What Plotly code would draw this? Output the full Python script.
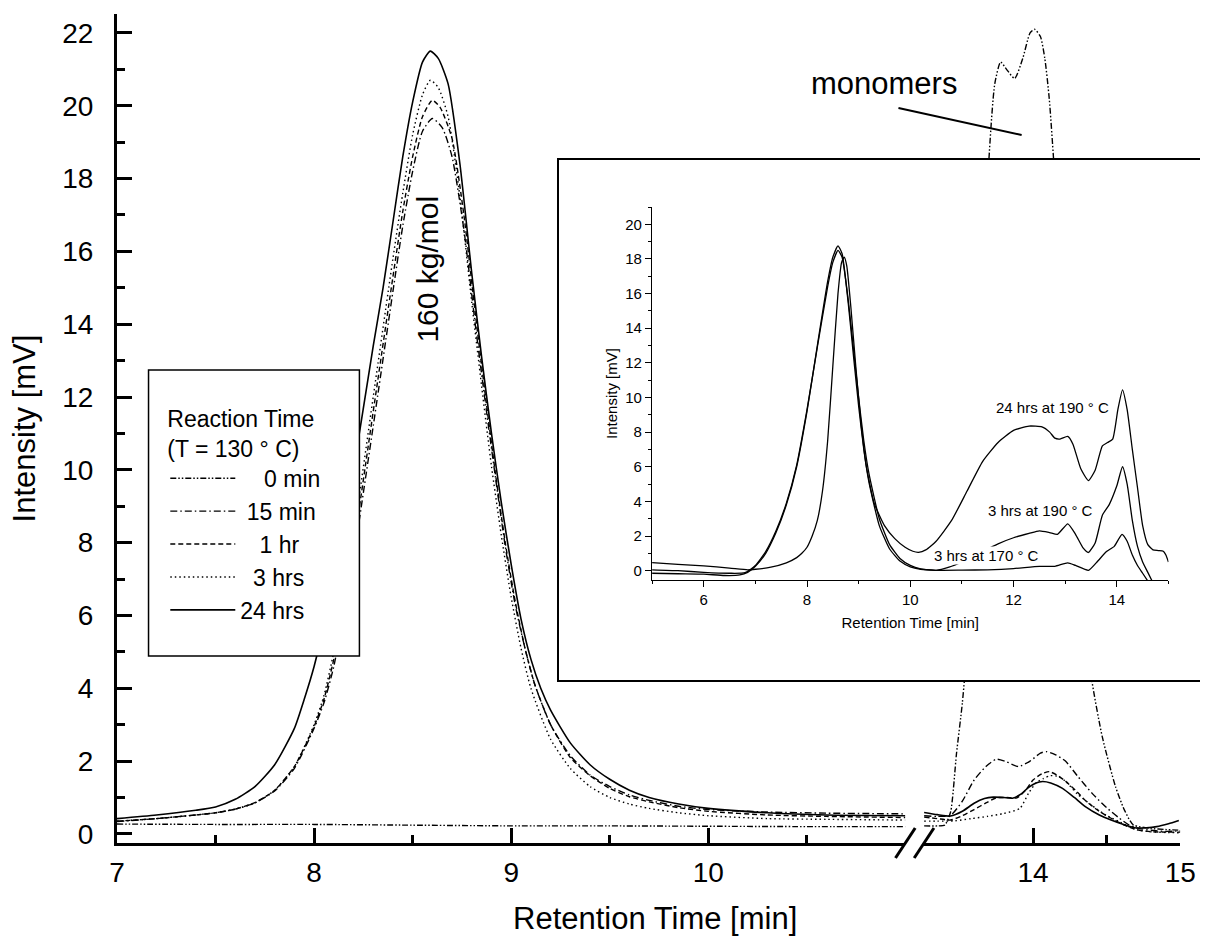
import plotly.graph_objects as go

# ---------------- main chromatograms (reaction at 130 °C) ----------------
# left part of the broken time axis (7 - 11 min), right part (13.26 - 15 min)

# 0 min
t_0min_a = [7.0, 7.5, 8.0, 8.5, 9.0, 9.5, 10.0, 10.5, 11.0]
i_0min_a = [0.27, 0.26, 0.26, 0.24, 0.22, 0.22, 0.21, 0.2, 0.2]
t_0min_b = [13.26, 13.35, 13.40, 13.44, 13.48, 13.52, 13.56, 13.62, 13.67, 13.70, 13.74,
            13.78, 13.82, 13.875, 13.93, 13.98, 14.01, 14.05, 14.08, 14.11, 14.14, 14.2,
            14.28, 14.35, 14.4, 14.47, 14.56, 14.62, 14.68, 14.8, 14.9, 15.0]
i_0min_b = [0.22, 0.22, 0.24, 0.6, 2.2, 3.6, 5.5, 10.0, 15.5, 18.5, 20.6,
            21.2, 21.0, 20.75, 21.3, 22.0, 22.1, 21.9, 21.3, 20.2, 18.5, 14.5,
            9.5, 6.0, 4.2, 2.67, 1.3, 0.66, 0.25, 0.15, 0.12, 0.1]

# 15 min
t_15min_a = [7.0, 7.2, 7.4, 7.5, 7.6, 7.7, 7.8, 7.9, 8.0, 8.05, 8.1, 8.2, 8.3, 8.4, 8.45, 8.5,
             8.55, 8.6, 8.65, 8.7, 8.76, 8.82, 8.87, 8.92, 8.97, 9.02, 9.07, 9.12, 9.2, 9.3,
             9.4, 9.5, 9.6, 9.7, 9.85, 10.0, 10.3, 10.6, 11.0]
i_15min_a = [0.34, 0.42, 0.52, 0.58, 0.68, 0.85, 1.18, 1.8, 2.9, 3.6, 4.6, 7.6, 11.2, 14.9, 16.7, 18.2,
             19.3, 19.65, 19.4, 18.6, 16.6, 13.9, 11.8, 9.8, 7.9, 6.3, 5.1, 4.1, 3.0, 2.15,
             1.62, 1.3, 1.07, 0.92, 0.76, 0.67, 0.6, 0.57, 0.55]
t_15min_b = [13.26, 13.35, 13.44, 13.52, 13.6, 13.68, 13.75, 13.82, 13.9, 13.98, 14.05, 14.09,
             14.15, 14.22, 14.3, 14.4, 14.5, 14.58, 14.65, 14.71, 14.8, 14.9, 15.0]
i_15min_b = [0.5, 0.48, 0.51, 0.9, 1.48, 1.85, 2.05, 1.98, 1.85, 2.0, 2.22, 2.26,
             2.18, 2.0, 1.6, 1.12, 0.72, 0.45, 0.25, 0.16, 0.1, 0.07, 0.08]

# 1 hr
t_1hr_a = [7.0, 7.2, 7.4, 7.5, 7.6, 7.7, 7.8, 7.9, 8.0, 8.05, 8.1, 8.2, 8.3, 8.4, 8.45, 8.5,
           8.55, 8.6, 8.64, 8.7, 8.76, 8.82, 8.87, 8.92, 8.97, 9.02, 9.07, 9.12, 9.2, 9.3,
           9.4, 9.5, 9.6, 9.7, 9.85, 10.0, 10.3, 10.6, 11.0]
i_1hr_a = [0.35, 0.42, 0.52, 0.58, 0.68, 0.86, 1.2, 1.85, 2.95, 3.7, 4.8, 7.9, 11.6, 15.3, 17.1, 18.6,
           19.7, 20.15, 19.95, 19.1, 17.0, 14.2, 12.0, 9.9, 8.0, 6.4, 5.1, 4.1, 3.0, 2.1,
           1.6, 1.25, 1.02, 0.88, 0.72, 0.62, 0.52, 0.48, 0.45]
t_1hr_b = [13.26, 13.35, 13.44, 13.52, 13.6, 13.68, 13.75, 13.82, 13.89, 13.95, 14.0, 14.06,
           14.11, 14.16, 14.22, 14.3, 14.36, 14.45, 14.53, 14.62, 14.71, 14.8, 14.9, 15.0]
i_1hr_b = [0.46, 0.42, 0.38, 0.5, 0.67, 0.85, 0.99, 1.0, 0.99, 1.2, 1.48, 1.65,
           1.71, 1.62, 1.45, 1.15, 0.9, 0.62, 0.43, 0.24, 0.11, 0.06, 0.05, 0.05]

# 3 hrs
t_3hrs_a = [7.0, 7.2, 7.4, 7.5, 7.6, 7.7, 7.8, 7.9, 8.0, 8.05, 8.1, 8.2, 8.3, 8.4, 8.45, 8.5,
            8.55, 8.59, 8.63, 8.68, 8.74, 8.8, 8.85, 8.9, 8.95, 9.0, 9.05, 9.1, 9.2, 9.3,
            9.4, 9.5, 9.6, 9.7, 9.85, 10.0, 10.3, 10.6, 11.0]
i_3hrs_a = [0.35, 0.42, 0.52, 0.58, 0.68, 0.85, 1.2, 1.85, 3.0, 3.8, 5.0, 8.2, 12.0, 15.8, 17.6, 19.2,
            20.3, 20.7, 20.5, 19.7, 17.5, 14.6, 12.3, 10.1, 8.2, 6.5, 5.1, 4.0, 2.6, 1.8,
            1.3, 1.0, 0.82, 0.7, 0.58, 0.5, 0.42, 0.4, 0.38]
t_3hrs_b = [13.26, 13.35, 13.47, 13.58, 13.69, 13.8, 13.91, 13.97, 14.02, 14.07, 14.12, 14.17,
            14.22, 14.3, 14.4, 14.5, 14.58, 14.65, 14.71, 14.8, 14.9, 15.0]
i_3hrs_b = [0.35, 0.35, 0.36, 0.42, 0.48, 0.56, 0.7, 1.12, 1.4, 1.52, 1.6, 1.58,
            1.45, 1.1, 0.78, 0.5, 0.35, 0.2, 0.11, 0.06, 0.04, 0.03]

# 24 hrs
t_24hrs_a = [7.0, 7.2, 7.4, 7.5, 7.6, 7.7, 7.8, 7.9, 7.95, 8.0, 8.1, 8.2, 8.3, 8.35, 8.4, 8.45,
             8.5, 8.55, 8.59, 8.63, 8.68, 8.74, 8.8, 8.85, 8.9, 8.95, 9.0, 9.05, 9.1, 9.15,
             9.2, 9.3, 9.4, 9.5, 9.6, 9.7, 9.85, 10.0, 10.3, 10.6, 11.0]
i_24hrs_a = [0.42, 0.52, 0.65, 0.74, 0.95, 1.3, 1.9, 2.9, 3.7, 4.6, 6.9, 10.0, 13.4, 15.0, 16.8, 18.6,
             20.1, 21.2, 21.5, 21.3, 20.6, 18.4, 15.4, 13.1, 11.0, 9.1, 7.4, 5.9, 4.8, 4.0,
             3.4, 2.5, 1.9, 1.5, 1.2, 1.0, 0.82, 0.7, 0.58, 0.52, 0.5]
t_24hrs_b = [13.26, 13.35, 13.44, 13.52, 13.6, 13.67, 13.73, 13.8, 13.86, 13.92, 13.97, 14.02,
             14.065, 14.12, 14.2, 14.28, 14.355, 14.45, 14.53, 14.62, 14.69, 14.77, 14.84,
             14.92, 14.99]
i_24hrs_b = [0.59, 0.53, 0.49, 0.62, 0.84, 0.97, 1.01, 1.0, 0.98, 1.1, 1.28, 1.4,
             1.44, 1.4, 1.25, 1.0, 0.75, 0.52, 0.38, 0.25, 0.17, 0.17, 0.2,
             0.28, 0.37]

NB = "\u00a0"
series_names = [NB * 3 + "\u2009" + "0 min", NB + "15 min", NB * 3 + "1 hr",
                NB * 2 + "3 hrs", "24 hrs"]
series_dash = ["6px,2px,1.5px,2px,1.5px,2px", "7px,3px,1.5px,3px", "5px,3px",
               "1.5px,3px", "solid"]

# ---------------- inset: degradation at higher temperature ----------------
t_24h190 = [5.0, 5.5, 6.0, 6.5, 6.85, 7.0, 7.3, 7.6, 7.8, 7.9, 8.0, 8.1, 8.2, 8.3, 8.4, 8.5,
            8.6, 8.67, 8.72, 8.77, 8.85, 8.95, 9.05, 9.15, 9.3, 9.5, 9.7, 9.9, 10.05, 10.16,
            10.3, 10.5, 10.8, 11.1, 11.4, 11.7, 12.0, 12.3, 12.55, 12.7, 12.8, 12.9, 13.05,
            13.15, 13.3, 13.45, 13.58, 13.72, 13.82, 13.92, 14.02, 14.11, 14.2, 14.3, 14.4,
            14.5, 14.6, 14.7, 14.8, 14.9, 14.95, 15.0]
i_24h190 = [0.46, 0.36, 0.27, 0.15, 0.05, 0.08, 0.2, 0.45, 0.75, 1.0, 1.35, 2.0, 2.9, 4.6, 7.5, 11.8,
            16.0, 17.8, 18.1, 17.6, 15.2, 11.6, 8.4, 6.0, 3.9, 2.6, 1.85, 1.35, 1.12, 1.06,
            1.2, 1.7, 2.9, 4.6, 6.3, 7.4, 8.1, 8.35, 8.3, 8.0, 7.65, 7.6, 7.75,
            7.3, 5.9, 5.2, 5.8, 7.2, 7.4, 7.6, 9.3, 10.44, 9.3, 7.0, 4.8,
            2.6, 1.5, 1.2, 1.16, 1.12, 0.9, 0.5]

t_3h190 = [5.0, 5.5, 6.0, 6.5, 6.8, 7.0, 7.2, 7.4, 7.6, 7.8, 8.0, 8.2, 8.4, 8.5, 8.6, 8.68,
           8.8, 8.9, 9.0, 9.1, 9.2, 9.4, 9.6, 9.8, 10.0, 10.2, 10.5, 10.75, 11.0, 11.3, 11.7,
           12.0, 12.3, 12.5, 12.7, 12.85, 13.05, 13.2, 13.35, 13.45, 13.58, 13.72, 13.85,
           14.0, 14.11, 14.2, 14.3, 14.4, 14.5, 14.6, 14.7]
i_3h190 = [0.05, 0.0, -0.1, -0.15, -0.12, 0.3, 1.1, 2.3, 3.9, 6.1, 9.3, 12.9, 16.4, 17.8, 18.5, 18.1,
           15.6, 12.8, 10.0, 7.5, 5.6, 3.0, 1.5, 0.7, 0.3, 0.1, 0.02, 0.2, 0.5, 0.95, 1.55,
           1.9, 2.15, 2.3, 2.2, 2.1, 2.7, 2.1, 1.3, 1.05, 1.6, 3.2, 3.8,
           4.9, 6.0, 5.0, 2.9, 1.4, 0.5, -0.1, -0.7]

t_3h170 = [5.0, 5.5, 6.0, 6.4, 6.7, 6.85, 7.0, 7.2, 7.4, 7.6, 7.8, 8.0, 8.2, 8.4, 8.5, 8.6,
           8.68, 8.8, 8.9, 9.0, 9.1, 9.2, 9.4, 9.6, 9.8, 10.0, 10.2, 10.5, 11.0, 11.5, 12.0,
           12.5, 12.8, 13.05, 13.2, 13.45, 13.6, 13.8, 13.95, 14.1, 14.2, 14.3, 14.4, 14.5, 14.6]
i_3h170 = [-0.15, -0.18, -0.2, -0.28, -0.25, -0.1, 0.25, 1.0, 2.2, 3.8, 6.0, 9.2, 13.0, 16.7, 18.1, 18.76,
           18.3, 15.4, 12.4, 9.5, 7.0, 5.1, 2.6, 1.25, 0.55, 0.22, 0.08, 0.02, 0.03, 0.05, 0.12,
           0.25, 0.25, 0.45, 0.3, 0.02, 0.45, 1.1, 1.4, 2.1, 1.7, 0.9, 0.3, -0.15, -0.6]

# ---------------- page geometry (pixels) ----------------
W, H = 1216, 944
ML, MR, MT, MB = 117, 0, 14, 101
PW, PH = W - ML - MR, H - MT - MB


def fx(px):
    return (px - ML) / PW


def fy(py):
    return (H - MB - py) / PH


FONT = "Liberation Sans, Arial, sans-serif"
BLACK = "black"

fig = go.Figure()

main_sets = [
    (t_0min_a, i_0min_a, t_0min_b, i_0min_b),
    (t_15min_a, i_15min_a, t_15min_b, i_15min_b),
    (t_1hr_a, i_1hr_a, t_1hr_b, i_1hr_b),
    (t_3hrs_a, i_3hrs_a, t_3hrs_b, i_3hrs_b),
    (t_24hrs_a, i_24hrs_a, t_24hrs_b, i_24hrs_b),
]
for k, (ta, ia, tb, ib) in enumerate(main_sets):
    width = 1.6 if series_dash[k] == "solid" else 1.4
    line = dict(color=BLACK, width=width, dash=series_dash[k], shape="spline", smoothing=0.6)
    fig.add_trace(go.Scatter(x=ta, y=ia, mode="lines", line=line, name=series_names[k],
                             legendgroup=str(k), xaxis="x", yaxis="y"))
    fig.add_trace(go.Scatter(x=tb, y=ib, mode="lines", line=line, name=series_names[k],
                             legendgroup=str(k), showlegend=False, xaxis="x2", yaxis="y"))

# white framed panel carrying the inset
fig.add_trace(go.Scatter(x=[], y=[], xaxis="x3", yaxis="y3", showlegend=False))

inset_line = dict(color=BLACK, width=1.3, shape="spline", smoothing=0.5)
for tx, iy in [(t_24h190, i_24h190), (t_3h190, i_3h190), (t_3h170, i_3h170)]:
    fig.add_trace(go.Scatter(x=tx, y=iy, mode="lines", line=inset_line, showlegend=False,
                             xaxis="x4", yaxis="y4"))

main_tick = dict(ticks="inside", ticklen=15, tickwidth=3, tickcolor=BLACK,
                 showline=True, linewidth=3, linecolor=BLACK, showgrid=False, zeroline=False,
                 tickfont=dict(family=FONT, size=28, color=BLACK))
inset_font = dict(family=FONT, size=15, color=BLACK)

fig.update_layout(
    width=W, height=H,
    margin=dict(l=ML, r=MR, t=MT, b=MB),
    paper_bgcolor="white", plot_bgcolor="white",
    font=dict(family=FONT, color=BLACK),
    xaxis=dict(domain=[0, fx(917)], range=[7, 11], anchor="y",
               tickmode="array", tickvals=[7, 8, 9, 10], ticklabelstandoff=2,
               minor=dict(tickmode="array", tickvals=[7.5, 8.5, 9.5, 10.5], ticks="inside",
                          ticklen=8, tickwidth=3, tickcolor=BLACK, showgrid=False),
               **main_tick),
    xaxis2=dict(domain=[fx(936), fx(1196)], range=[13.26, 15], anchor="y",
                tickmode="array", tickvals=[14, 15], ticklabelstandoff=2,
                minor=dict(tickmode="array", tickvals=[13.5, 14.5], ticks="inside",
                           ticklen=8, tickwidth=3, tickcolor=BLACK, showgrid=False),
                **main_tick),
    yaxis=dict(domain=[0, 1], range=[-0.25, 22.52], anchor="x",
               tickmode="linear", tick0=0, dtick=2, ticklabelstandoff=15,
               minor=dict(tickmode="linear", tick0=0, dtick=1, ticks="inside",
                          ticklen=8, tickwidth=3, tickcolor=BLACK, showgrid=False),
               title=dict(text="Intensity [mV]", font=dict(family=FONT, size=31, color=BLACK),
                          standoff=18),
               **main_tick),
    xaxis3=dict(domain=[fx(566), 1.0], range=[0, 1], anchor="y3", showline=True, mirror=True,
                linewidth=1.5, linecolor=BLACK, showticklabels=False, ticks="",
                showgrid=False, zeroline=False, fixedrange=True),
    yaxis3=dict(domain=[fy(680), fy(160)], range=[0, 1], anchor="x3", showline=True,
                linewidth=1.5, linecolor=BLACK, showticklabels=False, ticks="",
                showgrid=False, zeroline=False, fixedrange=True),
    xaxis4=dict(domain=[fx(660), fx(1184)], range=[5, 15], anchor="y4",
                showline=True, linewidth=1.3, linecolor=BLACK, showgrid=False, zeroline=False,
                ticks="outside", ticklen=6, tickwidth=1, tickcolor=BLACK,
                tickmode="linear", tick0=6, dtick=2,
                minor=dict(tickmode="linear", tick0=5, dtick=1, ticks="outside", ticklen=3,
                           tickwidth=1, tickcolor=BLACK, showgrid=False),
                tickfont=inset_font,
                title=dict(text="Retention Time [min]", font=inset_font, standoff=10)),
    yaxis4=dict(domain=[fy(580), fy(207)], range=[-0.54, 21], anchor="x4",
                showline=True, linewidth=1.3, linecolor=BLACK, showgrid=False, zeroline=False,
                ticks="outside", ticklen=6, tickwidth=1, tickcolor=BLACK,
                tickmode="linear", tick0=0, dtick=2,
                minor=dict(tickmode="linear", tick0=0, dtick=1, ticks="outside", ticklen=3,
                           tickwidth=1, tickcolor=BLACK, showgrid=False),
                tickfont=inset_font,
                title=dict(text="Intensity [mV]", font=inset_font, standoff=4)),
    legend=dict(x=fx(166), y=fy(397), xanchor="left", yanchor="top",
                bgcolor="rgba(0,0,0,0)", borderwidth=0, itemwidth=65,
                tracegroupgap=0, traceorder="normal",
                font=dict(family=FONT, size=23, color=BLACK),
                title=dict(text="Reaction Time<br>(T = 130 ° C)",
                           font=dict(family=FONT, size=23, color=BLACK))),
    showlegend=True,
)

# legend frame, axis break marks and the monomer pointer
fig.add_shape(type="rect", xref="paper", yref="paper", x0=fx(149), x1=fx(363), y0=fy(656), y1=fy(370),
              line=dict(color=BLACK, width=1.5), fillcolor="white", layer="above")
for x_top, x_bot in [(927, 907), (946, 926)]:
    fig.add_shape(type="line", xref="paper", yref="paper", x0=fx(x_bot), y0=fy(858),
                  x1=fx(x_top), y1=fy(828), line=dict(color=BLACK, width=3), layer="above")
fig.add_shape(type="line", xref="paper", yref="paper", x0=fx(910), y0=fy(108), x1=fx(1035), y1=fy(135),
              line=dict(color=BLACK, width=2), layer="above")

fig.add_annotation(text="Retention Time [min]", xref="paper", yref="paper", x=fx(663), y=fy(918),
                   xanchor="center", yanchor="middle", showarrow=False,
                   font=dict(family=FONT, size=31, color=BLACK))
fig.add_annotation(text="monomers", xref="paper", yref="paper", x=fx(895), y=fy(84),
                   xanchor="center", yanchor="middle", showarrow=False,
                   font=dict(family=FONT, size=31, color=BLACK))
fig.add_annotation(text="160 kg/mol", xref="x", yref="y", x=8.578, y=15.5, textangle=-90,
                   showarrow=False, font=dict(family=FONT, size=30, color=BLACK))

for txt, xx, yy in [("24 hrs at 190 ° C", 12.76, 9.44), ("3 hrs at 190 ° C", 12.52, 3.45),
                    ("3 hrs at 170 ° C", 11.48, 0.88)]:
    fig.add_annotation(text=txt, xref="x4", yref="y4", x=xx, y=yy, showarrow=False,
                       bgcolor="white", borderpad=0, font=inset_font)

fig.write_html("out.html")
